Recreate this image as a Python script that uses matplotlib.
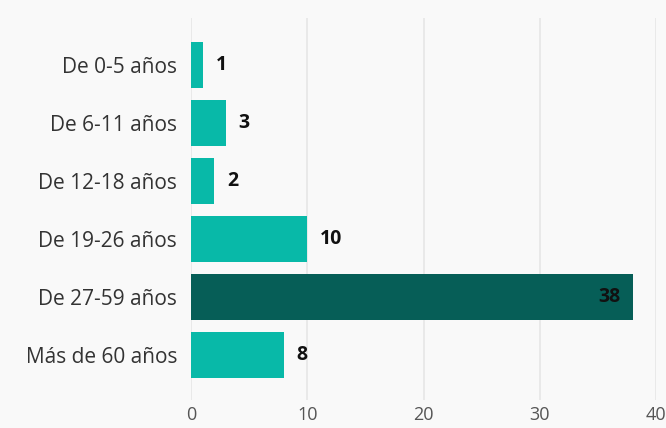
import matplotlib
matplotlib.use('Agg')
import matplotlib.pyplot as plt

# Distribución por grupo de edad
grupos = ['De 0-5 años', 'De 6-11 años', 'De 12-18 años',
          'De 19-26 años', 'De 27-59 años', 'Más de 60 años']
valores = [1, 3, 2, 10, 38, 8]
ticks_x = [0, 10, 20, 30, 40]

COLOR_BAR = '#08b9a8'
COLOR_MAX = '#065e57'
BG = '#f9f9f9'

plt.rcParams['font.family'] = ['Open Sans', 'DejaVu Sans']

fig = plt.figure(figsize=(6.66, 4.28), dpi=100)
fig.patch.set_facecolor(BG)
ax = fig.add_axes([0.2868, 0.0654, 0.985 - 0.2868, 0.958 - 0.0654])
ax.set_facecolor(BG)

vmax = max(valores)
colores = [COLOR_MAX if v == vmax else COLOR_BAR for v in valores]
pos = list(range(len(grupos)))
ax.barh(pos, valores, height=0.79, color=colores, zorder=2)

for y, v in zip(pos, valores):
    if v == vmax:
        ax.text(v - 1.1, y, str(v), ha='right', va='center',
                fontsize=14, fontweight='bold', color='#111111', zorder=3)
    else:
        ax.text(v + 1.1, y, str(v), ha='left', va='center',
                fontsize=14, fontweight='bold', color='#111111', zorder=3)

ax.set_xlim(0, 40)
ax.set_ylim(5.78, -0.81)
ax.set_yticks(pos)
ax.set_yticklabels(grupos, fontsize=15, color='#333333')
ax.set_xticks(ticks_x)
ax.set_xticklabels([str(t) for t in ticks_x], fontsize=13, color='#555555')
ax.tick_params(length=0, pad=10)
ax.tick_params(axis='x', pad=4)
ax.grid(axis='x', color='#e6e6e6', linewidth=1.2, zorder=0)
for s in ax.spines.values():
    s.set_visible(False)

fig.savefig('out.png', dpi=100, facecolor=BG)
